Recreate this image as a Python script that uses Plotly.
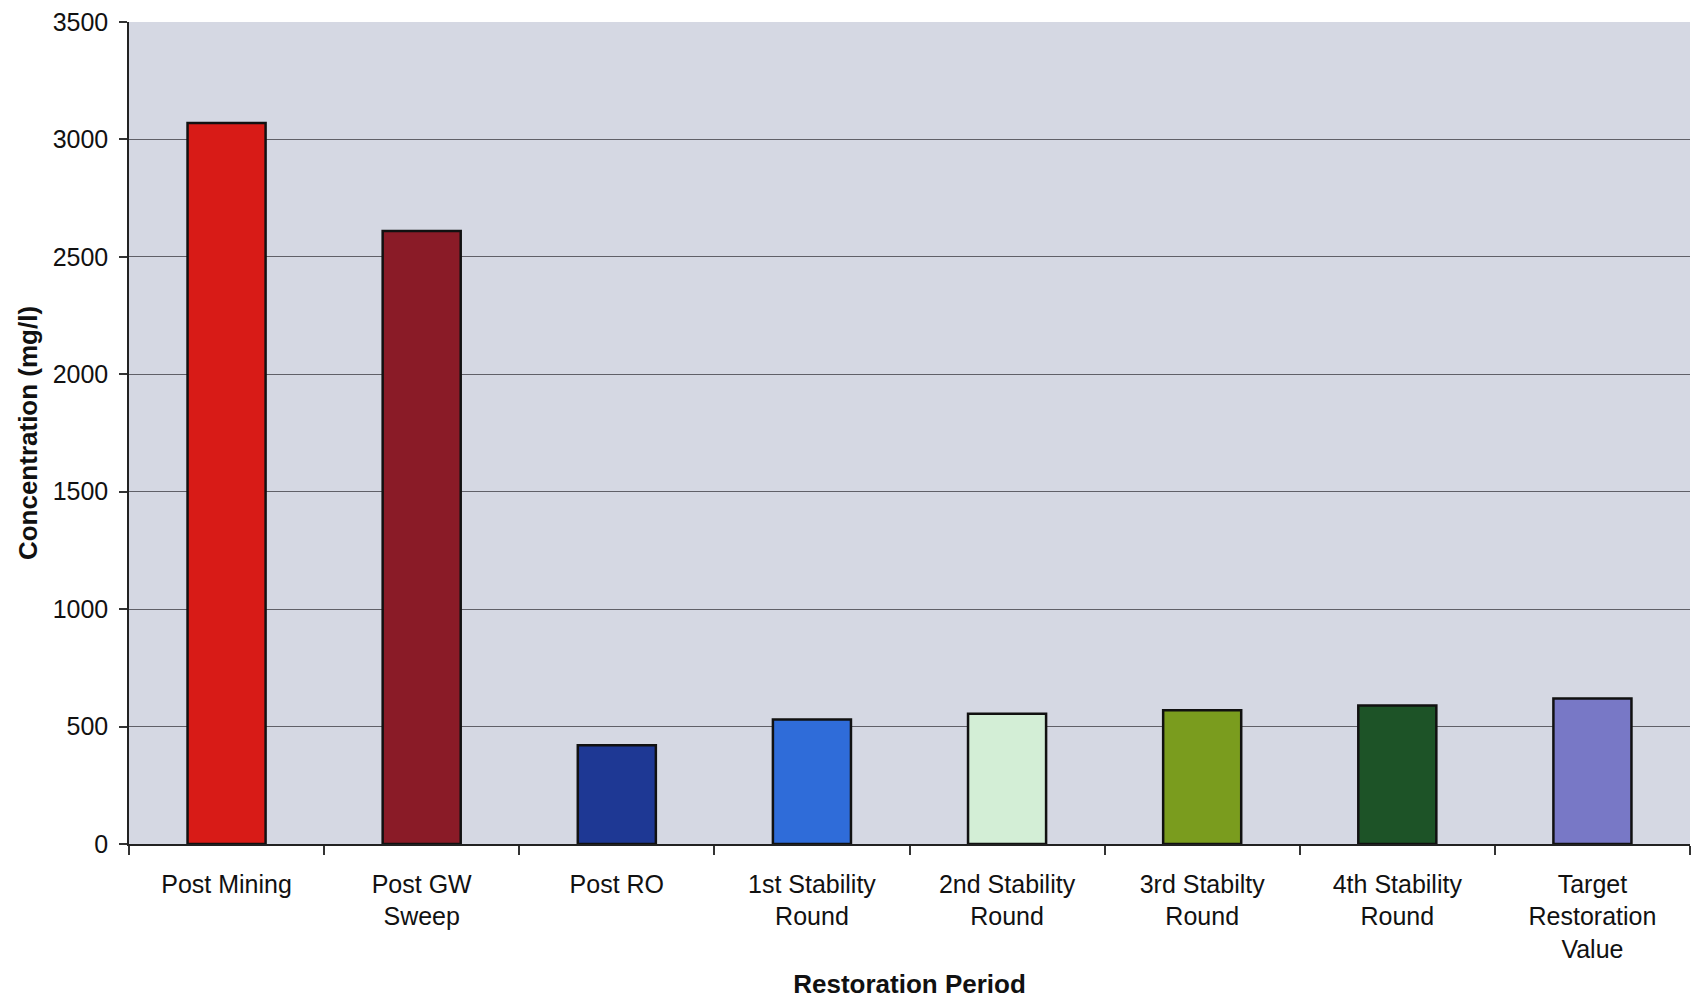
import plotly.graph_objects as go

categories = ["Post Mining", "Post GW<br>Sweep", "Post RO", "1st Stability<br>Round",
              "2nd Stability<br>Round", "3rd Stabilty<br>Round", "4th Stability<br>Round",
              "Target<br>Restoration<br>Value"]
values = [3070, 2610, 420, 530, 555, 570, 590, 620]
bar_colors = ["#D81B17", "#8A1B27", "#1E3894", "#2F6CD9", "#D3EED6", "#7A9C1E", "#1D5327", "#7878C6"]
y_ticks = [0, 500, 1000, 1500, 2000, 2500, 3000, 3500]

font_family = "Liberation Sans, Arial, sans-serif"

fig = go.Figure(go.Bar(
    x=categories, y=values,
    marker=dict(color=bar_colors, line=dict(color="#111111", width=2.5)),
    width=0.40,
))

fig.update_layout(
    width=1691, height=999,
    margin=dict(l=129, r=1, t=22, b=155, autoexpand=False),
    paper_bgcolor="white", plot_bgcolor="#D5D8E3",
    showlegend=False,
    font=dict(family=font_family, color="#111111", size=25),
)

fig.update_xaxes(
    type="category", tickson="boundaries",
    ticks="outside", ticklen=9, tickcolor="#333333", tickwidth=1.5,
    showline=True, linecolor="#222222", linewidth=1.5,
    showgrid=False, ticklabelstandoff=17,
    tickfont=dict(size=25),
    title=dict(text="<b>Restoration Period</b>", font=dict(size=26), standoff=22),
)
fig.update_yaxes(
    range=[0, 3500], tickvals=y_ticks,
    ticks="outside", ticklen=8, tickcolor="#333333", tickwidth=1.5,
    showline=True, linecolor="#222222", linewidth=1.5,
    showgrid=True, gridcolor="#606068", gridwidth=1.2,
    zeroline=False, ticklabelstandoff=6,
    tickfont=dict(size=25),
    title=dict(text="<b>Concentration (mg/l)</b>", font=dict(size=26), standoff=8),
)

fig.write_html("out.html")
